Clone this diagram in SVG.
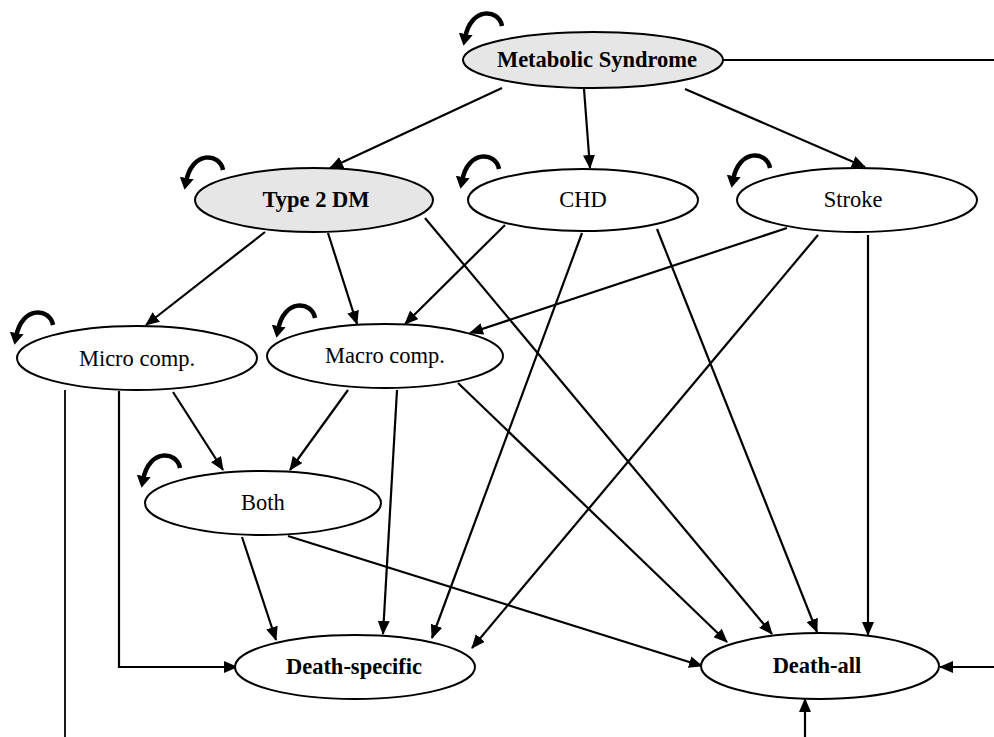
<svg xmlns="http://www.w3.org/2000/svg" width="994" height="737" viewBox="0 0 994 737">
<style>
.node{fill:#fff;stroke:#000;stroke-width:2}
.grey{fill:#e6e6e6}
.t{font-family:"Liberation Serif","Times New Roman",serif;font-size:22.5px;fill:#000;text-anchor:middle}
.b{font-weight:bold}
.e{fill:none;stroke:#000;stroke-width:2.2;marker-end:url(#ah)}
.p{fill:none;stroke:#000;stroke-width:1.8}
.loop{fill:none;stroke:#000;stroke-width:4.5;marker-end:url(#lh)}
</style>
<defs>
<marker id="ah" markerUnits="userSpaceOnUse" markerWidth="14" markerHeight="12" refX="13" refY="6" orient="auto" viewBox="0 0 14 12">
<path d="M0,0 L14,6 L0,12 Z" fill="#000"/>
</marker>
<marker id="lh" markerUnits="userSpaceOnUse" markerWidth="14" markerHeight="14" refX="4" refY="7" orient="auto" viewBox="0 0 14 14">
<path d="M0,0 L12,7 L0,14 Z" fill="#000"/>
</marker>
</defs>
<g id="connectors">
<line class="e" x1="502" y1="88" x2="330" y2="168"/>
<line class="e" x1="584" y1="89" x2="590" y2="168"/>
<line class="e" x1="685" y1="89" x2="865" y2="167"/>
<line class="e" x1="265" y1="232" x2="146" y2="325"/>
<line class="e" x1="328" y1="233" x2="357" y2="324"/>
<line class="e" x1="425" y1="218" x2="772" y2="634"/>
<line class="e" x1="505" y1="225" x2="405" y2="324"/>
<line class="e" x1="582" y1="233" x2="432" y2="638"/>
<line class="e" x1="657" y1="229" x2="817" y2="632"/>
<line class="e" x1="787" y1="228" x2="470" y2="333"/>
<line class="e" x1="818" y1="235" x2="472" y2="648"/>
<line class="e" x1="868" y1="235" x2="868" y2="635"/>
<line class="e" x1="173" y1="392" x2="223" y2="470"/>
<polyline class="e" points="119,391 119,667 237,667"/>
<line class="p" x1="65" y1="390" x2="65" y2="737"/>
<line class="e" x1="348" y1="390" x2="290" y2="470"/>
<line class="e" x1="397" y1="390" x2="383" y2="634"/>
<line class="e" x1="458" y1="383" x2="727" y2="642"/>
<line class="e" x1="242" y1="537" x2="276" y2="640"/>
<line class="e" x1="288" y1="536" x2="702" y2="666"/>
<line class="p" x1="723" y1="60" x2="994" y2="60"/>
<line class="e" x1="994" y1="667" x2="940" y2="667"/>
<line class="e" x1="805" y1="737" x2="805" y2="699"/>
</g>
<g id="loops">
<path class="loop" transform="translate(502,26)" d="M0,0 C-3,-17 -31,-20 -37,12"/>
<path class="loop" transform="translate(223,170)" d="M0,0 C-3,-17 -31,-20 -37,12"/>
<path class="loop" transform="translate(499,169)" d="M0,0 C-3,-17 -31,-20 -37,12"/>
<path class="loop" transform="translate(770,168)" d="M0,0 C-3,-17 -31,-20 -37,12"/>
<path class="loop" transform="translate(53,325)" d="M0,0 C-3,-17 -31,-20 -37,12"/>
<path class="loop" transform="translate(315,318)" d="M0,0 C-3,-17 -31,-20 -37,12"/>
<path class="loop" transform="translate(180,468)" d="M0,0 C-3,-17 -31,-20 -37,12"/>
</g>
<g id="metabolic-syndrome">
<ellipse class="node grey" cx="593" cy="60" rx="130" ry="28"/>
<text class="t b" x="597" y="67">Metabolic Syndrome</text>
</g>
<g id="type2dm">
<ellipse class="node grey" cx="314" cy="200" rx="119" ry="32"/>
<text class="t b" x="316" y="207">Type 2 DM</text>
</g>
<g id="chd">
<ellipse class="node" cx="583" cy="200" rx="115" ry="31"/>
<text class="t" x="583" y="207">CHD</text>
</g>
<g id="stroke">
<ellipse class="node" cx="857" cy="200" rx="120" ry="32"/>
<text class="t" x="853" y="207">Stroke</text>
</g>
<g id="micro">
<ellipse class="node" cx="137" cy="358" rx="120" ry="32"/>
<text class="t" x="137" y="366">Micro comp.</text>
</g>
<g id="macro">
<ellipse class="node" cx="385" cy="356" rx="118" ry="32"/>
<text class="t" x="385" y="363">Macro comp.</text>
</g>
<g id="both">
<ellipse class="node" cx="263" cy="503" rx="118" ry="32"/>
<text class="t" x="263" y="510">Both</text>
</g>
<g id="death-specific">
<ellipse class="node" cx="355" cy="667" rx="120" ry="32"/>
<text class="t b" x="354" y="674">Death-specific</text>
</g>
<g id="death-all">
<ellipse class="node" cx="820" cy="666" rx="119" ry="33"/>
<text class="t b" x="817" y="673">Death-all</text>
</g>
</svg>
